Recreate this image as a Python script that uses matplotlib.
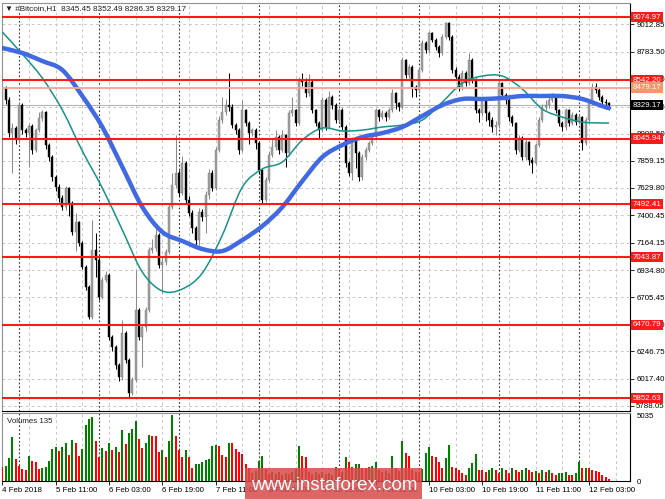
import matplotlib
matplotlib.use("Agg")
import matplotlib.pyplot as plt
import matplotlib.transforms as mtransforms
from matplotlib.patches import Rectangle, PathPatch
from matplotlib.path import Path

plt.rcParams['font.family'] = ['Liberation Sans', 'DejaVu Sans']

# ---- data (BTC H1) ----
open0 = 8330
closes = [8475, 8373, 8094, 8136, 8035, 8331, 8119, 8094, 8153, 7950,
          8119, 8221, 8272, 7993, 7891, 7722, 7637, 7544, 7468, 7629,
          7502, 7257, 7341, 7164, 6961, 6792, 6538, 7104, 7020, 6707,
          6851, 6893, 6369, 6284, 6132, 6030, 6402, 6174, 5895, 6005,
          6597, 6369, 6453, 6597, 7104, 7121, 7231, 6978, 7003, 7088,
          7468, 7654, 7756, 7587, 7840, 7527, 7417, 7291, 7189, 7426,
          7384, 7570, 7756, 7629, 7950, 8204, 8272, 8331, 8314, 8162,
          8119, 7950, 8289, 8179, 8094, 8119, 8010, 7781, 7527, 7697,
          7908, 7976, 8060, 7950, 8077, 7925, 8263, 8289, 8179, 8542,
          8525, 8432, 8525, 8289, 8179, 8119, 8373, 8145, 8399, 8331,
          8204, 8289, 8145, 7840, 7756, 8035, 7925, 7722, 7891, 7950,
          8010, 8060, 8289, 8229, 8263, 8229, 8289, 8432, 8348, 8314,
          8711, 8585, 8652, 8483, 8458, 8627, 8855, 8796, 8940, 8881,
          8821, 8771, 8906, 9024, 8906, 8627, 8568, 8483, 8602, 8517,
          8711, 8542, 8289, 8263, 8373, 8263, 8204, 8145, 8162, 8517,
          8415, 8373, 8229, 8179, 7950, 8052, 7891, 8018, 7866, 7840,
          7993, 8204, 8314, 8331, 8373, 8399, 8289, 8179, 8145, 8289,
          8179, 8246, 8187, 8229, 8010, 8204, 8348, 8483, 8458, 8399,
          8360, 8345.45, 8329.17]
highs = [8500, 8490, 8400, 8180, 8150, 8360, 8350, 8140, 8180, 8170,
         8140, 8275, 8290, 8280, 8010, 7910, 7740, 7660, 7570, 7650,
         7640, 7520, 7417, 7350, 7180, 6980, 6810, 7358, 7250, 7040,
         6880, 6930, 6910, 6390, 6300, 6150, 6512, 6420, 6190, 6030,
         6935, 6610, 6480, 6620, 7130, 7200, 7300, 7250, 7050, 7110,
         7490, 7760, 8077, 7780, 7900, 7860, 7560, 7440, 7310, 7460,
         7450, 7600, 7790, 7780, 7980, 8240, 8400, 8380, 8602, 8340,
         8180, 8140, 8373, 8300, 8200, 8140, 8140, 8030, 7800, 7720,
         7940, 8050, 8120, 8080, 8120, 8090, 8290, 8400, 8300, 8570,
         8600, 8560, 8590, 8540, 8300, 8200, 8400, 8390, 8450, 8420,
         8350, 8310, 8310, 8160, 7860, 8060, 8050, 7940, 7920, 7980,
         8030, 8090, 8310, 8300, 8290, 8280, 8310, 8470, 8440, 8360,
         8740, 8720, 8680, 8670, 8500, 8650, 8880, 8870, 8960, 8950,
         8900, 8840, 8930, 9035, 9030, 8920, 8650, 8590, 8630, 8620,
         8770, 8730, 8560, 8310, 8400, 8390, 8280, 8230, 8200, 8540,
         8530, 8430, 8390, 8250, 8190, 8080, 8070, 8040, 8030, 7890,
         8010, 8230, 8340, 8370, 8400, 8430, 8410, 8300, 8200, 8310,
         8300, 8270, 8260, 8250, 8240, 8230, 8370, 8517, 8520, 8480,
         8420, 8380, 8352.49]
lows = [8300, 8340, 8060, 7760, 8000, 8010, 8090, 8060, 7810, 7920,
        7930, 8100, 8200, 7960, 7860, 7690, 7600, 7510, 7440, 7440,
        7390, 7230, 7100, 7140, 6940, 6770, 6520, 6520, 6876, 6680,
        6690, 6830, 6340, 6250, 6100, 6000, 6005, 6150, 5852.63, 5880,
        5990, 6340, 6115, 6420, 6580, 7080, 7100, 6950, 6740, 6980,
        7070, 7450, 7630, 7560, 7570, 7500, 7390, 7250, 7150, 7150,
        7350, 7250, 7540, 7600, 7610, 7930, 8180, 8250, 8280, 8140,
        8090, 7920, 7930, 8150, 8000, 8070, 7960, 7750, 7500, 7510,
        7680, 7890, 7950, 7920, 7930, 7810, 7900, 8240, 8150, 8160,
        8490, 8400, 8410, 8260, 8150, 8050, 8100, 8120, 8130, 8300,
        8180, 8190, 8120, 7810, 7730, 7700, 7800, 7690, 7700, 7870,
        7930, 7990, 8040, 8200, 8210, 8200, 8210, 8270, 8300, 8280,
        8300, 8560, 8560, 8400, 8400, 8430, 8610, 8770, 8780, 8860,
        8800, 8740, 8750, 8890, 8880, 8600, 8540, 8450, 8460, 8490,
        8500, 8520, 8260, 8190, 8240, 8200, 8150, 8100, 8080, 8140,
        8390, 8340, 8200, 8150, 7920, 7930, 7870, 7870, 7820, 7760,
        7820, 7980, 8190, 8290, 8310, 8360, 8260, 8150, 8110, 8120,
        8150, 8160, 8160, 8170, 7950, 7990, 8180, 8330, 8430, 8370,
        8320, 8300, 8286.35]
volumes = [1100, 1150, 1730, 3380, 1650, 1180, 940, 870, 1890, 1500,
           1420, 940, 1020, 1100, 1500, 2440, 2600, 2280, 2600, 2910,
           1970, 3150, 2910, 1890, 2440, 4250, 4720, 4880, 3070, 1810,
           2520, 2280, 2910, 2360, 2600, 2200, 3860, 2830, 3700, 3940,
           4560, 3230, 2520, 2910, 3540, 3460, 3440, 2200, 2360, 1810,
           3070, 5035, 3460, 2360, 1810, 2360, 1810, 1000, 1260, 1300,
           1420, 1570, 1650, 2670, 2750, 2700, 2000, 1800, 2910, 2900,
           2440, 2200, 2050, 1300, 1000, 600, 800, 1500, 1890, 900,
           500, 650, 550, 700, 450, 600, 500, 700, 900, 2670,
           1890, 1850, 700, 550, 650, 500, 700, 550, 620, 480,
           1100, 900, 700, 1810, 1420, 1100, 1260, 1270, 1020, 1000,
           1100, 1110, 1420, 870, 700, 800, 600, 1890, 1020, 800,
           3070, 2120, 1890, 870, 700, 600, 900, 2120, 2600, 1890,
           1850, 1420, 1020, 1730, 2750, 1100, 1000, 870, 630, 470,
           1020, 1400, 2050, 870, 860, 700, 870, 1020, 870, 630,
           1020, 870, 630, 1020, 870, 700, 870, 1020, 870, 700,
           780, 630, 870, 700, 870, 630, 470, 630, 640, 700,
           470, 460, 630, 1420, 1020, 1030, 1000, 870, 800, 700,
           470, 300, 135]

# moving averages, read every 6 bars
ma_bars = [0, 6, 12, 18, 24, 30, 36, 42, 48, 54, 60, 66, 72, 78, 84, 90,
           96, 102, 108, 114, 120, 126, 132, 138, 144, 150, 156, 162, 168,
           174, 180, 182]
ma_fast = [8948, 8762, 8559, 8289, 7942, 7629, 7274, 6918, 6758, 6775, 6910,
           7231, 7637, 7790, 7849, 8035, 8136, 8111, 8119, 8145, 8162, 8204,
           8356, 8517, 8576, 8576, 8466, 8297, 8229, 8187, 8179, 8179]
ma_slow = [8813, 8771, 8703, 8627, 8407, 8145, 7807, 7468, 7257, 7181, 7113,
           7096, 7189, 7307, 7468, 7688, 7891, 7993, 8060, 8094, 8145, 8238,
           8331, 8382, 8382, 8390, 8407, 8407, 8407, 8382, 8322, 8306]

red_levels = [9074.97, 8542.20, 8045.94, 7492.41, 7043.87, 6470.79, 5852.63]
orange_level = 8479.17
last_price = 8329.17

price_ticks = [9012.85, 8783.50, 8554.15, 8317.85, 8088.50, 7859.15, 7629.80,
               7400.45, 7164.15, 6934.80, 6705.45, 6476.10, 6246.75, 6017.40,
               5788.05]
time_labels = ["4 Feb 2018", "5 Feb 11:00", "6 Feb 03:00", "6 Feb 19:00",
               "7 Feb 11:00", "8 Feb 03:00", "8 Feb 19:00", "9 Feb 11:00",
               "10 Feb 03:00", "10 Feb 19:00", "11 Feb 11:00", "12 Feb 03:00"]
day_starts = [5, 29, 53, 77, 101, 125, 149, 173]


def smooth_path(xs, ys):
    # Catmull-Rom through the read points, drawn as cubic Bezier segments
    pts = list(zip(xs, ys))
    verts = [pts[0]]
    codes = [Path.MOVETO]
    for k in range(len(pts) - 1):
        p0 = pts[k - 1] if k > 0 else pts[k]
        p1, p2 = pts[k], pts[k + 1]
        p3 = pts[k + 2] if k + 2 < len(pts) else pts[k + 1]
        c1 = (p1[0] + (p2[0] - p0[0]) / 6, p1[1] + (p2[1] - p0[1]) / 6)
        c2 = (p2[0] - (p3[0] - p1[0]) / 6, p2[1] - (p3[1] - p1[1]) / 6)
        verts += [c1, c2, p2]
        codes += [Path.CURVE4] * 3
    return Path(verts, codes)


# ---- figure ----
W, H = 665, 499
fig = plt.figure(figsize=(W / 100, H / 100), dpi=100)


def fx(px):
    return px / W


def fy(py):
    return 1 - py / H


ax = fig.add_axes([fx(2), fy(411), fx(630) - fx(2), fy(3) - fy(411)])
axv = fig.add_axes([fx(2), fy(481), fx(630) - fx(2), fy(413) - fy(481)], sharex=ax)

n = len(closes)
idx = list(range(n))
opens = [open0] + closes[:-1]

grid_kw = dict(color="#c8c8c8", lw=0.7, ls=(0, (3, 3)), zorder=0)
sep_kw = dict(color="#303030", lw=0.8, ls=(0, (1.5, 2)), zorder=0.5)
for a in (ax, axv):
    for g in range(8, 190, 8):
        a.axvline(g, **grid_kw)
    for d in day_starts:
        a.axvline(d, **sep_kw)
for t in price_ticks:
    ax.axhline(t, **grid_kw)

# candles
for i in idx:
    o, c = opens[i], closes[i]
    up = c >= o
    wick = "#8a8a8a" if up else "black"
    ax.vlines(i, lows[i], highs[i], color=wick, lw=0.75, zorder=2)
    ax.bar(i, abs(c - o) if abs(c - o) > 4 else 4, bottom=min(o, c), width=0.62,
           color="#a0a0a0" if up else "black", edgecolor="#7a7a7a" if up else "black",
           lw=0.3, zorder=3)

ax.add_patch(PathPatch(smooth_path(ma_bars, ma_fast), fill=False,
                       ec="#17928a", lw=1.1, zorder=4))
ax.add_patch(PathPatch(smooth_path(ma_bars, ma_slow), fill=False,
                       ec="#4169e1", lw=3.2, zorder=4, capstyle="round"))

ax.axhline(last_price, color="#b4b4b4", lw=0.8, zorder=1)
for lv in red_levels:
    ax.axhline(lv, color="#ff1a1a", lw=1.5, zorder=5)
ax.axhline(orange_level, color="#f8a585", lw=1.3, zorder=5)

ax.set_xlim(-0.1, 188.3)
ax.set_ylim(5743, 9194)
ax.yaxis.tick_right()
ax.set_yticks(price_ticks)
ax.set_yticklabels(["%.2f" % t for t in price_ticks])
ax.tick_params(axis="y", labelsize=5.7, length=3, width=0.6, pad=1.5)
ax.tick_params(axis="x", bottom=False, labelbottom=False)

# level labels on the price scale
tr = mtransforms.blended_transform_factory(ax.transAxes, ax.transData)
for lv in red_levels:
    ax.text(1.004, lv, "%.2f" % lv, transform=tr, ha="left", va="center",
            fontsize=5.7, color="white", clip_on=False, zorder=10,
            bbox=dict(boxstyle="square,pad=0.22", fc="#ff1a1a", ec="none"))
ax.text(1.004, orange_level, "%.2f" % orange_level, transform=tr, ha="left",
        va="center", fontsize=5.7, color="white", clip_on=False, zorder=10,
        bbox=dict(boxstyle="square,pad=0.22", fc="#f7956b", ec="none"))
ax.text(1.004, last_price, "%.2f" % last_price, transform=tr, ha="left",
        va="center", fontsize=5.7, color="white", clip_on=False, zorder=10,
        bbox=dict(boxstyle="square,pad=0.22", fc="black", ec="none"))

# volumes
vcol = ["#ff0000"] + ["#008000" if volumes[i] > volumes[i - 1] else "#ff0000"
                      for i in range(1, n)]
axv.bar(idx, volumes, width=0.62, color=vcol, lw=0, zorder=3)
axv.set_ylim(0, 5190)
axv.yaxis.tick_right()
axv.set_yticks([0, max(volumes)])
axv.set_yticklabels(["0", str(max(volumes))])
axv.tick_params(axis="y", labelsize=5.7, length=0, pad=5)
axv.set_xticks(range(0, 177, 16))
axv.set_xticklabels(time_labels, ha="left")
axv.tick_params(axis="x", labelsize=5.7, length=3, width=0.6, pad=1.5)
axv.text(0.008, 0.93, "Volumes %d" % volumes[-1], transform=axv.transAxes,
         fontsize=5.7, va="top", ha="left", color="#202020")

for a in (ax, axv):
    a.set_facecolor("white")
    a.spines["left"].set_color("#909090")
    a.spines["top"].set_color("#909090")
    a.spines["right"].set_color("black")
    a.spines["bottom"].set_color("black")
    for s in a.spines.values():
        s.set_linewidth(0.8)

fig.text(fx(5), fy(9), "\u25bc #Bitcoin,H1  8345.45 8352.49 8286.35 8329.17",
         fontsize=5.9, va="center", ha="left", color="#202020", zorder=6,
         bbox=dict(boxstyle="square,pad=0.1", fc="white", ec="none", alpha=0.6))

# watermark
fig.add_artist(Rectangle((fx(245), 0), fx(422) - fx(245), fy(468),
                         transform=fig.transFigure, fc="#d84a4a", ec="none",
                         alpha=0.85, zorder=20))
fig.text(fx(334), fy(485), "www.instaforex.com", fontsize=13.5, color="white",
         ha="center", va="center", zorder=21)

fig.savefig("out.png", dpi=100, facecolor="white")
